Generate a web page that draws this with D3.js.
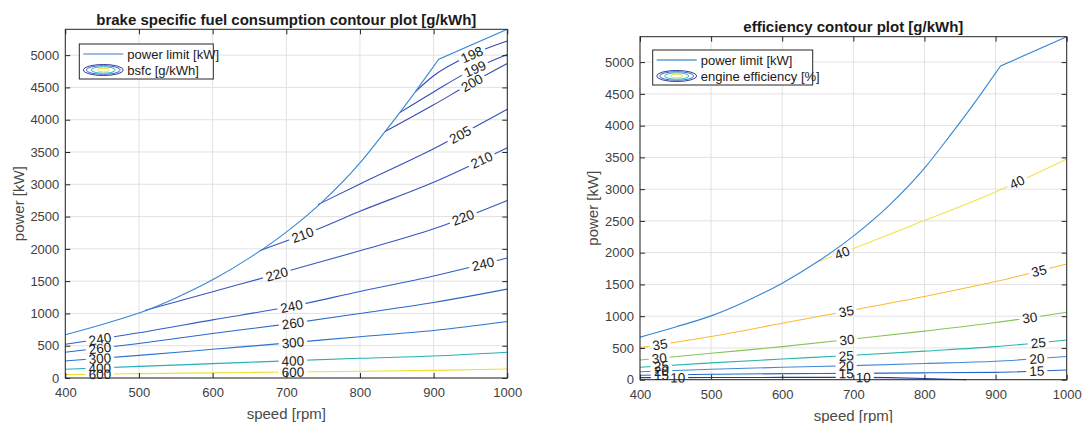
<!DOCTYPE html>
<html>
<head>
<meta charset="utf-8">
<script src="https://cdn.jsdelivr.net/npm/d3@7"></script>
<style>
  body { margin: 0; background: #ffffff; }
  text { font-family: "Liberation Sans", Arial, sans-serif; }
</style>
</head>
<body>
<script>
// axis ticks
var speedTicks = [400, 500, 600, 700, 800, 900, 1000]
var powerTicks = [0, 500, 1000, 1500, 2000, 2500, 3000, 3500, 4000, 4500, 5000]

// engine power limit curve [rpm, kW]
var powerLimit = [[400, 670], [450, 830], [500, 1005], [550, 1240], [600, 1520], [650, 1860],
    [700, 2260], [750, 2740], [800, 3330], [834, 3815], [854, 4110], [875, 4430],
    [907, 4938], [1000, 5400]]

// bsfc contour lines [g/kWh]
var bsfcLevels = [198, 199, 200, 205, 210, 220, 240, 260, 300, 400, 600]
var bsfcLines = [
    [[875, 4430], [900, 4680], [950, 5000], [1000, 5220]],
    [[854, 4110], [900, 4430], [950, 4760], [1000, 5010]],
    [[834, 3815], [900, 4230], [950, 4560], [1000, 4870]],
    [[743, 2686], [800, 3005], [900, 3550], [1000, 4161]],
    [[664, 1972], [741, 2298], [800, 2582], [900, 3030], [1000, 3566]],
    [[508, 1045], [600, 1335], [700, 1650], [800, 1970], [900, 2310], [1000, 2750]],
    [[400, 523], [500, 700], [600, 900], [700, 1095], [800, 1340], [900, 1580], [1000, 1858]],
    [[400, 399], [500, 535], [600, 690], [700, 835], [800, 1000], [900, 1170], [1000, 1377]],
    [[400, 264], [500, 350], [600, 445], [700, 540], [800, 640], [900, 735], [1000, 874]],
    [[400, 135], [500, 180], [600, 222], [700, 265], [800, 305], [900, 340], [1000, 399]],
    [[400, 52], [500, 68], [600, 80], [700, 92], [800, 105], [900, 118], [1000, 140]]
]
// contour labels [level, rpm]
var bsfcLabels = [[198, 952], [199, 956], [200, 952], [205, 936], [210, 722], [210, 965],
    [220, 687], [220, 940], [240, 447], [240, 707], [240, 967], [260, 447], [260, 709],
    [300, 447], [300, 709], [400, 447], [400, 709], [600, 447], [600, 709]]

// engine efficiency contour lines [%]
var effLevels = [40, 35, 30, 25, 20, 15, 10]
var effLines = [
    [[651, 1860], [700, 2065], [800, 2505], [900, 2955], [1000, 3477]],
    [[400, 505], [500, 680], [600, 888], [700, 1098], [800, 1310], [900, 1545], [1000, 1823]],
    [[400, 310], [500, 416], [600, 520], [700, 640], [800, 765], [900, 900], [1000, 1062]],
    [[400, 195], [500, 265], [600, 325], [700, 385], [800, 450], [900, 520], [1000, 625]],
    [[400, 126], [500, 165], [600, 195], [700, 222], [800, 255], [900, 290], [1000, 365]],
    [[400, 69], [500, 85], [600, 95], [700, 100], [800, 108], [900, 116], [1000, 153]],
    [[400, 32], [500, 34], [600, 36], [700, 36], [750, 32], [800, 20], [859, 0]]
]
var effLabels = [[40, 684], [40, 930], [35, 428], [35, 690], [35, 961], [30, 427], [30, 691],
    [30, 948], [25, 430], [25, 690], [25, 960], [20, 430], [20, 690], [20, 958],
    [15, 430], [15, 690], [15, 958], [10, 453], [10, 714]]

var bsfcColors = ["#3548b0", "#3549b2", "#364cb5", "#3650ba", "#3654bd", "#3558c2",
    "#305ec6", "#2c66cb", "#2874d2", "#24b0b4", "#efe036"]
var effColors = ["#f2e24e", "#fbbb34", "#86c555", "#28b6ad", "#418bd5", "#2766cb", "#263a96"]

var svg = d3.select("body").append("svg")
    .attr("width", 1092)
    .attr("height", 423)
var defs = svg.append("defs")

// linear interpolation along a contour at a given speed
var interp = function (pts, s) {
    for (var i = 0; i < pts.length - 1; i++) {
        if (s >= pts[i][0] && s <= pts[i + 1][0]) {
            var t = (s - pts[i][0]) / (pts[i + 1][0] - pts[i][0])
            return pts[i][1] + t * (pts[i + 1][1] - pts[i][1])
        }
    }
    return pts[pts.length - 1][1]
}

var drawPanel = function (p) {
    var xScale = d3.scaleLinear().domain([400, 1000]).range([p.left, p.right])
    var yScale = d3.scaleLinear().domain([0, 5400]).range([p.bottom, p.top])
    var panel = svg.append("g")

    // grid
    panel.append("g").selectAll("line")
        .data(speedTicks)
        .enter().append("line")
        .attr("x1", function (d) { return xScale(d) })
        .attr("x2", function (d) { return xScale(d) })
        .attr("y1", p.top).attr("y2", p.bottom)
        .attr("stroke", "#e2e2e2")
    panel.append("g").selectAll("line")
        .data(powerTicks)
        .enter().append("line")
        .attr("y1", function (d) { return yScale(d) })
        .attr("y2", function (d) { return yScale(d) })
        .attr("x1", p.left).attr("x2", p.right)
        .attr("stroke", "#e2e2e2")

    var lineGen = d3.line()
        .x(function (d) { return xScale(d[0]) })
        .y(function (d) { return yScale(d[1]) })
        .curve(d3.curveMonotoneX)

    // label gaps are cut out of the contours with a mask
    var mask = defs.append("mask")
        .attr("id", p.id + "-mask")
        .attr("maskUnits", "userSpaceOnUse")
        .attr("x", 0).attr("y", 0).attr("width", 1092).attr("height", 423)
    mask.append("rect")
        .attr("width", 1092).attr("height", 423)
        .attr("fill", "white")

    var contours = panel.append("g")
        .attr("mask", "url(#" + p.id + "-mask)")
        .attr("fill", "none")
    contours.selectAll("path")
        .data(p.lines)
        .enter().append("path")
        .attr("d", lineGen)
        .attr("stroke", function (d, i) { return p.colors[i] })
        .attr("stroke-width", 1.1)

    // power limit: smooth part up to 875 rpm, then straight segments
    var limitGroup = panel.append("g")
        .attr("fill", "none")
        .attr("stroke", "#3586d4")
        .attr("stroke-width", 1.1)
    limitGroup.append("path")
        .datum(powerLimit.slice(0, 12))
        .attr("d", lineGen)
    limitGroup.append("path")
        .datum(powerLimit.slice(11))
        .attr("d", d3.line()
            .x(function (d) { return xScale(d[0]) })
            .y(function (d) { return yScale(d[1]) }))

    // contour labels
    var labels = panel.append("g")
    p.labels.forEach(function (lab) {
        var pts = p.lines[p.levels.indexOf(lab[0])]
        var s = lab[1]
        var x = xScale(s)
        var y = yScale(interp(pts, s))
        var ang = Math.atan2(yScale(interp(pts, Math.min(s + 6, 1000))) - yScale(interp(pts, Math.max(s - 6, 400))),
            xScale(Math.min(s + 6, 1000)) - xScale(Math.max(s - 6, 400))) * 180 / Math.PI
        var t = labels.append("text")
            .text(lab[0])
            .attr("transform", "translate(" + x + "," + y + ") rotate(" + ang + ")")
            .attr("text-anchor", "middle")
            .attr("dy", "0.36em")
            .attr("font-size", 13.5)
            .attr("fill", "#1a1a1a")
        var w = t.node().getComputedTextLength() + 6
        mask.append("rect")
            .attr("x", -w / 2).attr("y", -6)
            .attr("width", w).attr("height", 12)
            .attr("transform", "translate(" + x + "," + y + ") rotate(" + ang + ")")
            .attr("fill", "black")
    })

    // axes, ticks pointing inwards on all four sides
    var styleAxis = function (sel) {
        sel.select(".domain").remove()
        sel.selectAll("line").attr("stroke", "#262626")
        sel.selectAll("text")
            .attr("fill", "#404040")
            .attr("font-size", 13)
            .attr("font-family", "Liberation Sans, Arial, sans-serif")
    }
    panel.append("g")
        .attr("transform", "translate(0," + p.bottom + ")")
        .call(d3.axisBottom(xScale).tickValues(speedTicks).tickFormat(d3.format("d"))
            .tickSize(-5).tickPadding(10))
        .call(styleAxis)
    panel.append("g")
        .attr("transform", "translate(" + p.left + ",0)")
        .call(d3.axisLeft(yScale).tickValues(powerTicks).tickFormat(d3.format("d"))
            .tickSize(-5).tickPadding(6))
        .call(styleAxis)
    panel.append("g")
        .attr("transform", "translate(0," + p.top + ")")
        .call(d3.axisTop(xScale).tickValues(speedTicks).tickSize(-5).tickFormat(""))
        .call(styleAxis)
    panel.append("g")
        .attr("transform", "translate(" + p.right + ",0)")
        .call(d3.axisRight(yScale).tickValues(powerTicks).tickSize(-5).tickFormat(""))
        .call(styleAxis)
    panel.append("rect")
        .attr("x", p.left).attr("y", p.top)
        .attr("width", p.right - p.left).attr("height", p.bottom - p.top)
        .attr("fill", "none")
        .attr("stroke", "#262626")

    // titles
    panel.append("text")
        .text(p.title)
        .attr("x", (p.left + p.right) / 2)
        .attr("y", p.titleY)
        .attr("text-anchor", "middle")
        .attr("font-size", 15)
        .attr("font-weight", "bold")
        .attr("fill", "#1a1a1a")
    panel.append("text")
        .text("speed [rpm]")
        .attr("x", (p.left + p.right) / 2)
        .attr("y", p.bottom + 36)
        .attr("dy", "0.35em")
        .attr("text-anchor", "middle")
        .attr("font-size", 15)
        .attr("fill", "#4a4a4a")
    panel.append("text")
        .text("power [kW]")
        .attr("transform", "translate(" + (p.left - 47) + "," + ((p.top + p.bottom) / 2) + ") rotate(-90)")
        .attr("dy", "0.35em")
        .attr("text-anchor", "middle")
        .attr("font-size", 15)
        .attr("fill", "#4a4a4a")

    // legend
    var leg = panel.append("g")
        .attr("transform", "translate(" + p.legX + "," + p.legY + ")")
    leg.append("rect")
        .attr("width", p.legW).attr("height", 35)
        .attr("fill", "white")
        .attr("stroke", "#262626")
    leg.append("line")
        .attr("x1", 4).attr("x2", 44).attr("y1", 10).attr("y2", 10)
        .attr("stroke", p.legLine)
        .attr("stroke-width", p.legLineW)
    leg.append("text")
        .text("power limit [kW]")
        .attr("x", 48).attr("y", 10).attr("dy", "0.35em")
        .attr("font-size", 13)
        .attr("fill", "#1a1a1a")
    var rings = [[20, 5.5, "#353a9e"], [17, 4.3, "#3c6cc8"], [12, 3.2, "#2cbac4"], [6, 1.8, "#f0e030"]]
    leg.selectAll("ellipse")
        .data(rings)
        .enter().append("ellipse")
        .attr("cx", 24).attr("cy", 26)
        .attr("rx", function (d) { return d[0] })
        .attr("ry", function (d) { return d[1] })
        .attr("fill", "none")
        .attr("stroke", function (d) { return d[2] })
    leg.append("text")
        .text(p.legText)
        .attr("x", 48).attr("y", 26).attr("dy", "0.35em")
        .attr("font-size", 13)
        .attr("fill", "#1a1a1a")
}

drawPanel({
    id: "bsfc", left: 65.3, right: 507.3, top: 29.3, bottom: 378, titleY: 25,
    title: "brake specific fuel consumption contour plot [g/kWh]",
    levels: bsfcLevels, lines: bsfcLines, labels: bsfcLabels, colors: bsfcColors,
    legX: 79.3, legY: 44, legW: 134, legText: "bsfc [g/kWh]", legLine: "#3a78c8", legLineW: 1
})
drawPanel({
    id: "eff", left: 640, right: 1066.7, top: 36.7, bottom: 379.7, titleY: 31.7,
    title: "efficiency contour plot [g/kWh]",
    levels: effLevels, lines: effLines, labels: effLabels, colors: effColors,
    legX: 652.7, legY: 50, legW: 160, legText: "engine efficiency [%]", legLine: "#5d9cd8", legLineW: 1.6
})
</script>
</body>
</html>
